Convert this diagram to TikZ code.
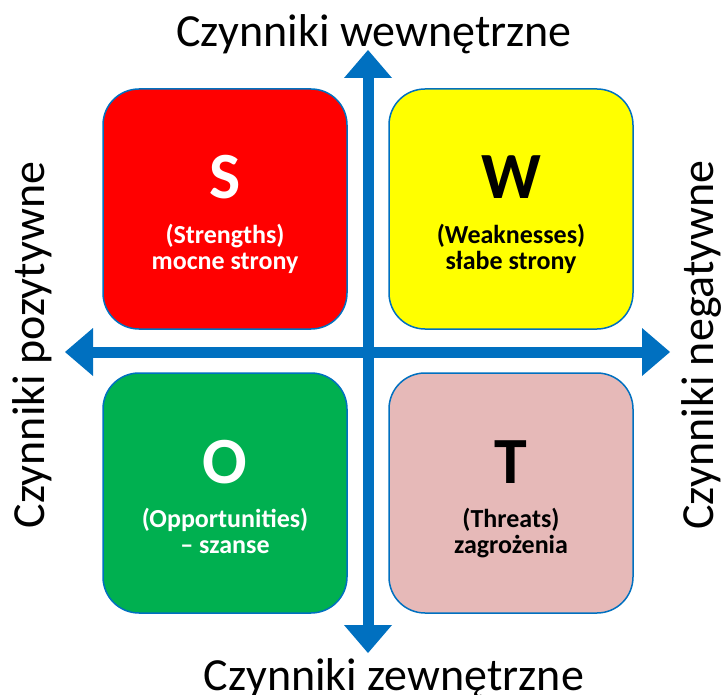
\documentclass[tikz,border=0pt]{standalone}
\usepackage{fontspec}
\setmainfont{Carlito}
\usetikzlibrary{positioning,arrows.meta}

\definecolor{swotblue}{HTML}{0070C0}
\definecolor{swotred}{HTML}{FF0000}
\definecolor{swotyellow}{HTML}{FFFF00}
\definecolor{swotgreen}{HTML}{00B050}
\definecolor{swotpink}{HTML}{E6B9B8}

\begin{document}
\begin{tikzpicture}[
    x=1pt, y=-1pt,
    quadrant/.style={rectangle, draw=swotblue, line width=1.5pt, rounded corners=36pt, minimum width=244pt, minimum height=240pt, inner sep=0pt, outer sep=0pt},
    letter/.style={font=\fontsize{66}{66}\selectfont\bfseries, anchor=base, inner sep=0pt},
    caption/.style={font=\fontsize{26}{26}\selectfont\bfseries, align=center, anchor=base, inner sep=0pt},
    axislabel/.style={font=\fontsize{46}{46}\selectfont, anchor=base, inner sep=0pt},
    axisarrow/.style={line width=11pt, draw=swotblue, {Triangle[width=48pt,length=28pt,line width=0pt]}-{Triangle[width=48pt,length=28pt,line width=0pt]}}
]
    \useasboundingbox (0,0) rectangle (725,695);

    % Axis ends
    \coordinate (centre) at (368,352);
    \coordinate (top) at (368,50);
    \coordinate (bottom) at (368,653);
    \coordinate (left) at (65,352);
    \coordinate (right) at (670,352);

    % Axes
    \draw [axisarrow] (left) -- (right);
    \draw [axisarrow] (top) -- (bottom);

    % Quadrants
    \node [quadrant, fill=swotred, above left=23pt and 21pt of centre] (S) {};
    \node [quadrant, fill=swotyellow, above right=23pt and 21pt of centre] (W) {};
    \node [quadrant, fill=swotgreen, below left=21pt and 21pt of centre] (O) {};
    \node [quadrant, fill=swotpink, below right=21pt and 21pt of centre] (T) {};

    % Letters
    \node [letter, text=white] (Sletter) at ([yshift=10pt]S.center) {S};
    \node [letter] (Wletter) at ([yshift=10pt]W.center) {W};
    \node [letter, text=white] (Oletter) at ([yshift=10pt]O.center) {O};
    \node [letter] (Tletter) at ([yshift=10pt]T.center) {T};

    % Captions (base = last line)
    \node [caption, text=white] (Stext) at ([yshift=-60pt]S.center) {(Strengths)\\mocne strony};
    \node [caption] (Wtext) at ([yshift=-60pt]W.center) {(Weaknesses)\\słabe strony};
    \node [caption, text=white] (Otext) at ([yshift=-60pt]O.center) {(Opportunities)\\– szanse};
    \node [caption] (Ttext) at ([yshift=-60pt]T.center) {(Threats)\\zagrożenia};

    % Axis labels
    \node [axislabel] (internal) at (374,47) {Czynniki wewnętrzne};
    \node [axislabel] (external) at (394,690) {Czynniki zewnętrzne};
    \node [axislabel, rotate=90] (positive) at (44,345) {Czynniki pozytywne};
    \node [axislabel, rotate=90] (negative) at (713,345) {Czynniki negatywne};
\end{tikzpicture}
\end{document}
